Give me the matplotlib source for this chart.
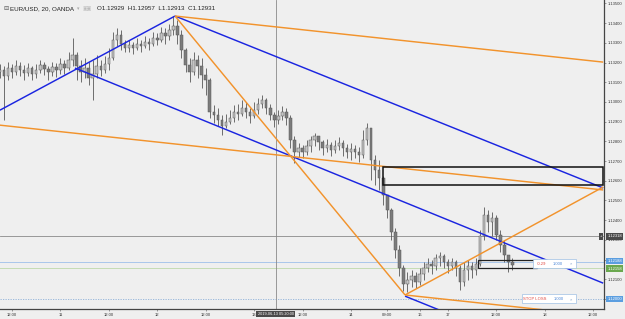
import matplotlib
matplotlib.use('Agg')
import matplotlib.pyplot as plt
import numpy as np
from matplotlib.patches import Rectangle

plt.rcParams['font.family'] = ['Liberation Sans', 'DejaVu Sans']

# ---------------- data (hourly candles, x = hours from 2019-06-10 09:00) ----------------
first_open = 1.13151
closes = [1.13161, 1.13131, 1.13172, 1.13151, 1.13182, 1.13161, 1.13146, 1.13172, 1.13141, 1.13161,
          1.13187, 1.13166, 1.13151, 1.13177, 1.13161, 1.13192, 1.13172, 1.13212, 1.13238, 1.13182,
          1.13151, 1.13172, 1.13121, 1.13141, 1.13182, 1.13161, 1.13192, 1.13222, 1.13314, 1.13339,
          1.13293, 1.13273, 1.13288, 1.13273, 1.13293, 1.13283, 1.13304, 1.13293, 1.13324, 1.13314,
          1.13349, 1.13334, 1.13365, 1.13385, 1.13339, 1.13263, 1.13187, 1.13151, 1.13212, 1.13182,
          1.13136, 1.13111, 1.12948, 1.12933, 1.12907, 1.12877, 1.12897, 1.12918, 1.12948, 1.12938,
          1.12968, 1.12948, 1.12928, 1.12958, 1.12989, 1.13009, 1.12968, 1.12933, 1.12907, 1.12928,
          1.12948, 1.12918, 1.12806, 1.12745, 1.12765, 1.12745, 1.12775, 1.12806, 1.12826, 1.12796,
          1.12765, 1.12780, 1.12755, 1.12775, 1.12791, 1.12765, 1.12745, 1.12760, 1.12745, 1.12730,
          1.12806, 1.12867, 1.12704, 1.12653, 1.12613, 1.12526, 1.12450, 1.12338, 1.12247, 1.12156,
          1.12074, 1.12095, 1.12115, 1.12084, 1.12125, 1.12156, 1.12176, 1.12166, 1.12206, 1.12217,
          1.12186, 1.12166, 1.12186, 1.12156, 1.12084, 1.12145, 1.12166, 1.12145, 1.12176, 1.12318,
          1.12425, 1.12389, 1.12410, 1.12323, 1.12272, 1.12222, 1.12186, 1.12171]
highs = [1.13192, 1.13182, 1.13202, 1.13192, 1.13212, 1.13202, 1.13187, 1.13197, 1.13182, 1.13192,
         1.13212, 1.13202, 1.13182, 1.13202, 1.13197, 1.13222, 1.13212, 1.13253, 1.13324, 1.13253,
         1.13212, 1.13222, 1.13202, 1.13212, 1.13238, 1.13212, 1.13232, 1.13273, 1.13354, 1.13375,
         1.13365, 1.13314, 1.13314, 1.13304, 1.13324, 1.13314, 1.13334, 1.13324, 1.13354, 1.13349,
         1.13380, 1.13375, 1.13395, 1.13436, 1.13415, 1.13365, 1.13273, 1.13222, 1.13253, 1.13238,
         1.13222, 1.13172, 1.13121, 1.12984, 1.12968, 1.12933, 1.12938, 1.12958, 1.12984, 1.12989,
         1.13009, 1.12999, 1.12968, 1.12999, 1.13019, 1.13034, 1.13019, 1.12989, 1.12948, 1.12958,
         1.12979, 1.12968, 1.12933, 1.12826, 1.12791, 1.12780, 1.12806, 1.12826, 1.12841, 1.12826,
         1.12806, 1.12811, 1.12796, 1.12806, 1.12821, 1.12806, 1.12786, 1.12791, 1.12780, 1.12770,
         1.12857, 1.12892, 1.12867, 1.12730, 1.12704, 1.12623, 1.12526, 1.12460, 1.12359, 1.12272,
         1.12171, 1.12135, 1.12145, 1.12135, 1.12156, 1.12186, 1.12206, 1.12196, 1.12227, 1.12237,
         1.12227, 1.12201, 1.12206, 1.12196, 1.12171, 1.12186, 1.12196, 1.12186, 1.12206, 1.12349,
         1.12465, 1.12450, 1.12440, 1.12425, 1.12349, 1.12298, 1.12217, 1.12206]
lows = [1.13121, 1.12907, 1.13111, 1.13121, 1.13136, 1.13131, 1.13111, 1.13131, 1.13111, 1.13121,
        1.13146, 1.13136, 1.13111, 1.13131, 1.13126, 1.13141, 1.13141, 1.13161, 1.13182, 1.13111,
        1.13100, 1.13121, 1.13085, 1.13009, 1.13121, 1.13131, 1.13146, 1.13161, 1.13212, 1.13283,
        1.13263, 1.13253, 1.13253, 1.13243, 1.13263, 1.13253, 1.13273, 1.13263, 1.13283, 1.13288,
        1.13304, 1.13293, 1.13314, 1.13339, 1.13293, 1.13222, 1.13151, 1.13100, 1.13136, 1.13121,
        1.13070, 1.13034, 1.12918, 1.12892, 1.12877, 1.12831, 1.12867, 1.12887, 1.12897, 1.12907,
        1.12928, 1.12918, 1.12892, 1.12918, 1.12938, 1.12968, 1.12938, 1.12907, 1.12872, 1.12887,
        1.12907, 1.12882, 1.12765, 1.12689, 1.12719, 1.12714, 1.12730, 1.12745, 1.12775, 1.12755,
        1.12730, 1.12745, 1.12725, 1.12740, 1.12755, 1.12725, 1.12714, 1.12704, 1.12714, 1.12694,
        1.12714, 1.12780, 1.12603, 1.12577, 1.12552, 1.12476, 1.12410, 1.12298, 1.12206, 1.12115,
        1.12039, 1.12034, 1.12059, 1.12054, 1.12069, 1.12095, 1.12135, 1.12125, 1.12145, 1.12166,
        1.12156, 1.12130, 1.12145, 1.12115, 1.12044, 1.12064, 1.12095, 1.12105, 1.12120, 1.12166,
        1.12298, 1.12338, 1.12318, 1.12298, 1.12237, 1.12186, 1.12135, 1.12145]
hours = list(range(len(closes)))
opens = [first_open] + closes[:-1]

xtick_pos = [3, 15, 27, 39, 51, 63, 75, 87, 96, 104, 111, 123, 135, 147]
xtick_labels = ['12:00', '11', '12:00', '12', '12:00', '13', '12:00', '14', '09:00', '16', '17', '12:00', '18', '12:00']
ytick_vals = [1.120, 1.121, 1.122, 1.123, 1.124, 1.125, 1.126, 1.127, 1.128, 1.129,
              1.130, 1.131, 1.132, 1.133, 1.134, 1.135]

# trend lines: (h0, p0, h1, p1)
blue_lines = [(0.0, 1.12958, 43.4, 1.13436),
              (43.4, 1.13436, 149.5, 1.12563),
              (18.6, 1.13172, 149.5, 1.12080),
              (100.4, 1.12014, 112.0, 1.11918)]
orange_lines = [(43.4, 1.13436, 149.5, 1.13202),
                (43.4, 1.13436, 100.4, 1.12020),
                (0.0, 1.12882, 149.5, 1.12553),
                (100.4, 1.12020, 149.5, 1.12568),
                (100.4, 1.12020, 140.0, 1.11933)]
zone_box = (94.9, 1.12577, 149.5, 1.12669)
position_box = (118.5, 1.12156, 133.1, 1.12196)

cross_h = 68.33
cross_price = 1.12318
entry_price = 1.12188
current_price = 1.12158
stop_price = 1.12000
header_main = 'EUR/USD, 20, OANDA'
header_ohlc = 'O1.12929  H1.12957  L1.12913  C1.12931'

# ---------------- drawing ----------------
bg = '#efefef'
fig = plt.figure(figsize=(6.25, 3.19), dpi=100, facecolor=bg)
ax = fig.add_axes([0, 10/319, 604/625, 309/319])
ax.set_facecolor(bg)
ax.set_xlim(0.025, 149.7)
ax.set_ylim(1.119488, 1.135173)

# horizontal reference lines
ax.axhline(entry_price, color='#a9c6ea', lw=0.7, zorder=1)
ax.axhline(current_price, color='#c4dcb4', lw=0.7, zorder=1)
ax.axhline(stop_price, color='#8fb1d9', lw=0.6, ls=(0, (1.5, 1.5)), zorder=1)
ax.axvline(cross_h, color='#8a8a8a', lw=0.6, zorder=1)
ax.axhline(cross_price, color='#8a8a8a', lw=0.6, zorder=1)

# candles
o = np.array(opens); c = np.array(closes); hi = np.array(highs); lo = np.array(lows)
up = c >= o
ax.vlines(hours, lo, hi, color='#585858', lw=0.6, zorder=2)
face = np.where(up, '#c4c4c4', '#7c7c7c')
ax.bar(hours, np.abs(c - o), bottom=np.minimum(o, c), width=0.62, color=face,
       edgecolor='#585858', linewidth=0.35, zorder=3)

# trend lines
for h0, p0, h1, p1 in blue_lines:
    ax.plot([h0, h1], [p0, p1], color='#1b25e0', lw=1.05, zorder=4, solid_capstyle='butt')
for h0, p0, h1, p1 in orange_lines:
    ax.plot([h0, h1], [p0, p1], color='#f2932c', lw=1.05, zorder=4, solid_capstyle='butt')

# rectangles
h0, p0, h1, p1 = zone_box
ax.add_patch(Rectangle((h0, p0), h1 - h0, p1 - p0, fill=False, ec='#111111', lw=1.1, zorder=5))
h0, p0, h1, p1 = position_box
ax.add_patch(Rectangle((h0, p0), h1 - h0, p1 - p0, fill=False, ec='#222222', lw=0.9, zorder=5))

# position label boxes
def info_box(hl, hr, pc, parts):
    ph = 0.00023
    ax.add_patch(Rectangle((hl, pc - ph), hr - hl, 2 * ph, fc='white', ec='#9fbfe3', lw=0.5, zorder=6))
    for hx, txt, col in parts:
        ax.text(hx, pc, txt, color=col, fontsize=3, ha='center', va='center', zorder=7)

info_box(132.1, 142.7, 1.12178, [(134.2, '-0.29', '#e0443c'), (138.2, '1.000', '#4a86d8'), (141.4, '×', '#7a9cc6')])
info_box(129.4, 142.7, stop_price, [(132.6, 'STOP LOSS', '#e0443c'), (138.6, '1.000', '#4a86d8'), (141.4, '×', '#7a9cc6')])

# axes styling
for s in ['top', 'left']:
    ax.spines[s].set_visible(False)
ax.spines['right'].set_color('#444444'); ax.spines['right'].set_linewidth(0.9)
ax.spines['bottom'].set_color('#444444'); ax.spines['bottom'].set_linewidth(0.9)
ax.yaxis.tick_right()
ax.set_yticks(ytick_vals)
ax.set_yticklabels(['%.5f' % v for v in ytick_vals])
ax.set_xticks(xtick_pos)
ax.set_xticklabels(xtick_labels)
ax.tick_params(axis='both', labelsize=3, length=1.5, width=0.4, color='#555555', labelcolor='#333333', pad=1.2)

# price labels on axis
ytr = ax.get_yaxis_transform()
def price_label(p, fc, txt):
    ax.text(1.006, p, txt, transform=ytr, fontsize=3, color='white', ha='left', va='center',
            bbox=dict(boxstyle='square,pad=0.3', fc=fc, ec='none'), zorder=10, clip_on=False)

price_label(cross_price, '#4a4a4a', '%.5f' % cross_price)
price_label(entry_price + 0.00004, '#5b9ee0', '%.5f' % entry_price)
price_label(current_price - 0.00004, '#6aa84f', '%.5f' % current_price)
price_label(stop_price, '#5b9ee0', '%.5f' % stop_price)
ax.text(0.997, cross_price, '+', transform=ytr, fontsize=3, color='white', ha='right', va='center',
        bbox=dict(boxstyle='square,pad=0.3', fc='#4a4a4a', ec='none'), zorder=10, clip_on=False)

# crosshair time label
ax.text(cross_h, -0.016, '2019-06-13 05:20:00', transform=ax.get_xaxis_transform(), fontsize=2.8,
        color='white', ha='center', va='center',
        bbox=dict(boxstyle='square,pad=0.35', fc='#4a4a4a', ec='none'), zorder=10, clip_on=False)

# header
fig.text(3/625, 1 - 8.5/319, '⊟', fontsize=4.5, color='#555555', va='center', ha='left',
         family=['DejaVu Sans'])
fig.text(10/625, 1 - 8.5/319, header_main, fontsize=4.5, color='#222222', va='center', ha='left')
fig.text(77/625, 1 - 8.5/319, '▾', fontsize=3.5, color='#aaaaaa', va='center', ha='left', family=['DejaVu Sans'])
fig.text(83/625, 1 - 8.5/319, '▣▣', fontsize=3.5, color='#bbbbbb', va='center', ha='left', family=['DejaVu Sans'])
fig.text(97/625, 1 - 8.5/319, header_ohlc, fontsize=4.5, color='#222222', va='center', ha='left')

fig.savefig('out.png', dpi=100, facecolor=bg)
